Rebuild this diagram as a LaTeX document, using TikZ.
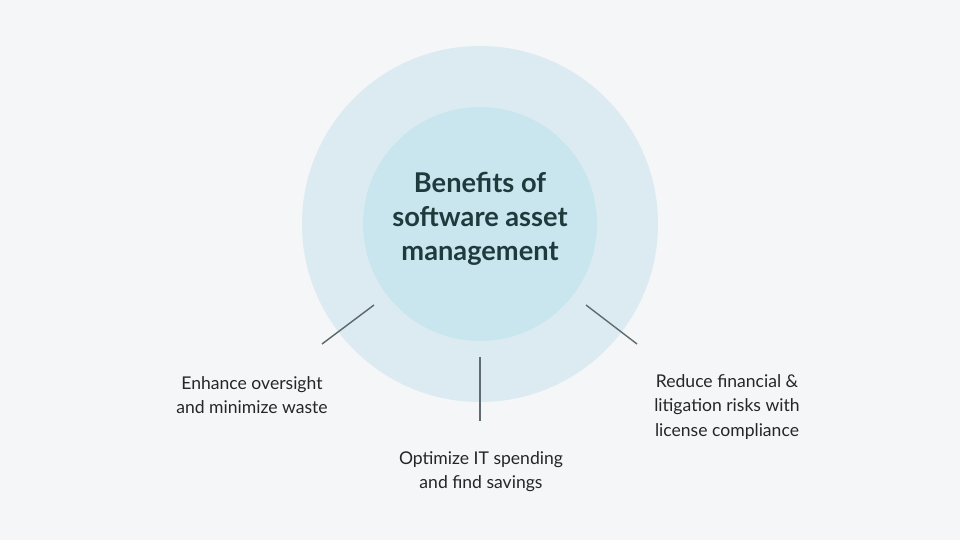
\documentclass[tikz,border=0pt]{standalone}
\usepackage{fontspec}
\setmainfont{Lato}
\usetikzlibrary{positioning}
\definecolor{bg}{HTML}{F5F6F8}
\definecolor{outerc}{HTML}{DCEBF1}
\definecolor{innerc}{HTML}{C9E6EE}
\definecolor{titlec}{HTML}{1F3A3D}
\definecolor{linec}{HTML}{5F6B70}
\tikzset{
  benefit/.style={align=center, text=black!85, font=\fontsize{10}{13.8}\selectfont},
  tick/.style={draw=linec, line width=0.8pt}
}
\begin{document}
\begin{tikzpicture}[x=0.02cm, y=-0.02cm]
		\fill[bg] (0,0) rectangle (960,540);
		\useasboundingbox (0,0) rectangle (960,540);
		\fill[outerc] (480,224) circle (178);
		\fill[innerc] (480,224) circle (117);
		\node[align=center, text=titlec, font=\bfseries\fontsize{15.5}{19.2}\selectfont] (title) at (480,219) {Benefits of\\software asset\\management};

		\draw (374,305) coordinate (l1) (322,344) coordinate (l2)
		(480,357) coordinate (m1) (480,421) coordinate (m2)
		(586,305) coordinate (r1) (637,344) coordinate (r2);
		\draw (252,395) node[benefit] (left) {Enhance oversight\\and minimize waste}
		(481,472) node[benefit] (mid) {Optimize IT spending\\and find savings}
		(727,407) node[benefit] (right) {Reduce financial \&\\litigation risks with\\license compliance};

		\draw[tick] (l1) -- (l2);
		\draw[tick] (m1) -- (m2);
		\draw[tick] (r1) -- (r2);
	\end{tikzpicture}
\end{document}
